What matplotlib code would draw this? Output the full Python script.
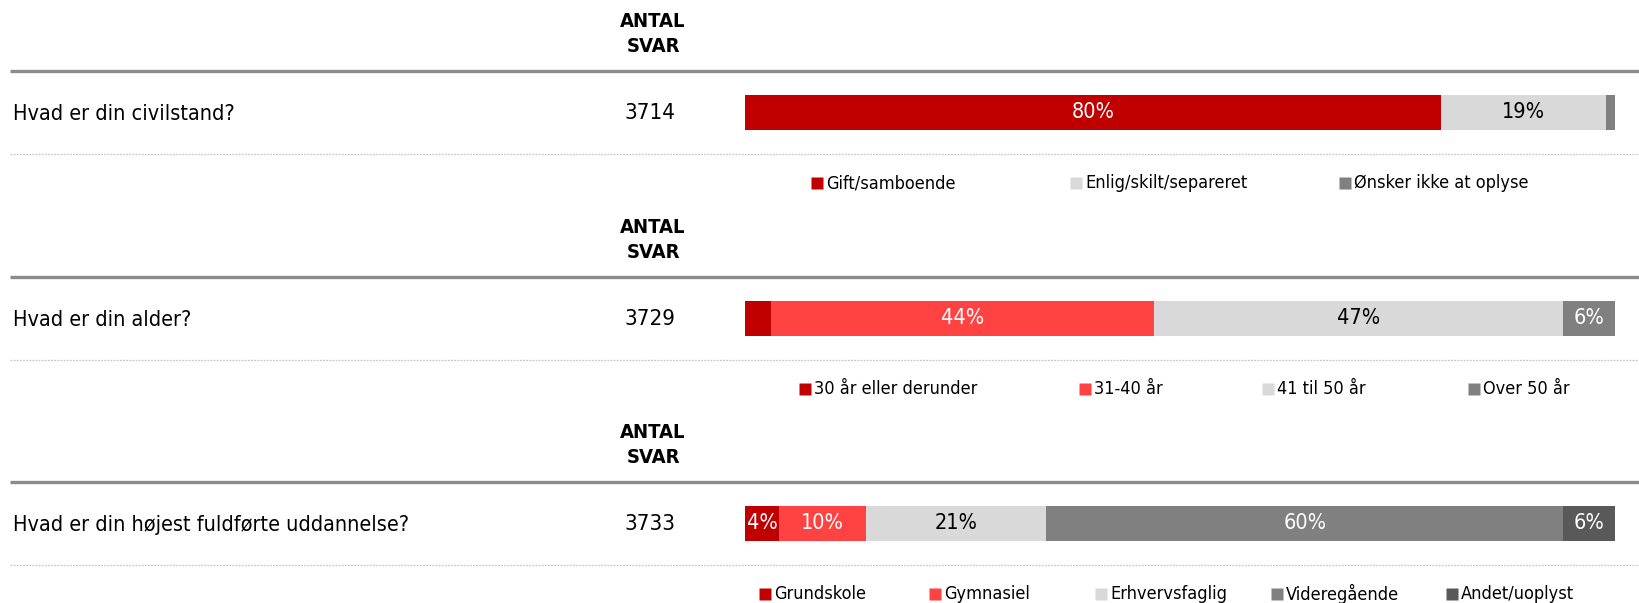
import matplotlib.pyplot as plt

plt.rcParams['font.family'] = ['DejaVu Sans']
plt.rcParams['font.stretch'] = 'condensed'

# survey data
questions = ["Hvad er din civilstand?",
             "Hvad er din alder?",
             "Hvad er din højest fuldførte uddannelse?"]
counts = [3714, 3729, 3733]

civil_labels = ["Gift/samboende", "Enlig/skilt/separeret", "Ønsker ikke at oplyse"]
civil_values = [80, 19, 1]

age_labels = ["30 år eller derunder", "31-40 år", "41 til 50 år", "Over 50 år"]
age_values = [3, 44, 47, 6]

edu_labels = ["Grundskole", "Gymnasiel", "Erhvervsfaglig", "Videregående", "Andet/uoplyst"]
edu_values = [4, 10, 21, 60, 6]

header = "ANTAL\nSVAR"

# styling
DARKRED, RED, LIGHT, GREY, DARKGREY = "#C00000", "#FF4343", "#D9D9D9", "#808080", "#595959"
civil_colors = [DARKRED, LIGHT, GREY]
age_colors = [DARKRED, RED, LIGHT, GREY]
edu_colors = [DARKRED, RED, LIGHT, GREY, DARKGREY]

# legend square centres (pixels)
blocks = [
    (civil_labels, civil_values, civil_colors, [817, 1076, 1345]),
    (age_labels, age_values, age_colors, [805, 1085, 1268, 1474]),
    (edu_labels, edu_values, edu_colors, [765, 935, 1101, 1277, 1452]),
]
block_tops = [71, 277, 482]

W, H = 1639, 603
fig = plt.figure(figsize=(W / 100, H / 100), dpi=100)
ax0 = fig.add_axes([0, 0, 1, 1])
ax0.set_xlim(0, W)
ax0.set_ylim(H, 0)
ax0.axis("off")

bar_x0, bar_w, bar_h = 745, 870, 35

for i, (labels, values, colors, leg_x) in enumerate(blocks):
    top = block_tops[i]
    # header
    ax0.text(653, top - 37, header, ha="center", va="center", fontsize=14.5,
             fontweight="bold", linespacing=1.35)
    ax0.plot([10, W], [top, top], color="#8C8C8C", lw=2.4, solid_capstyle="butt")
    ax0.plot([10, W], [top + 83, top + 83], color="#C8C8C8", lw=0.9, ls=(0, (1.5, 1)))
    cy = top + 41
    ax0.text(13, cy + 2, questions[i], ha="left", va="center", fontsize=15.5)
    ax0.text(650, cy + 1, str(counts[i]), ha="center", va="center", fontsize=16)

    # stacked bar
    ax = fig.add_axes([bar_x0 / W, (H - cy - bar_h / 2) / H, bar_w / W, bar_h / H])
    total = sum(values)
    left = 0
    for v, c in zip(values, colors):
        frac = v / total
        ax.barh(0, frac, left=left, height=1, color=c, edgecolor="none")
        if v >= 4:
            tc = "black" if c == LIGHT else "white"
            ax.text(left + frac / 2, 0, f"{v}%", ha="center", va="center",
                    fontsize=15.5, color=tc)
        left += frac
    ax.set_xlim(0, 1)
    ax.set_ylim(-0.5, 0.5)
    ax.axis("off")

    # legend
    ly = top + 112
    for lx, lab, c in zip(leg_x, labels, colors):
        ax0.plot(lx, ly, marker="s", ms=8, color=c, mec="none")
        ax0.text(lx + 9, ly, lab, ha="left", va="center", fontsize=13)

fig.savefig("out.png", dpi=100)
